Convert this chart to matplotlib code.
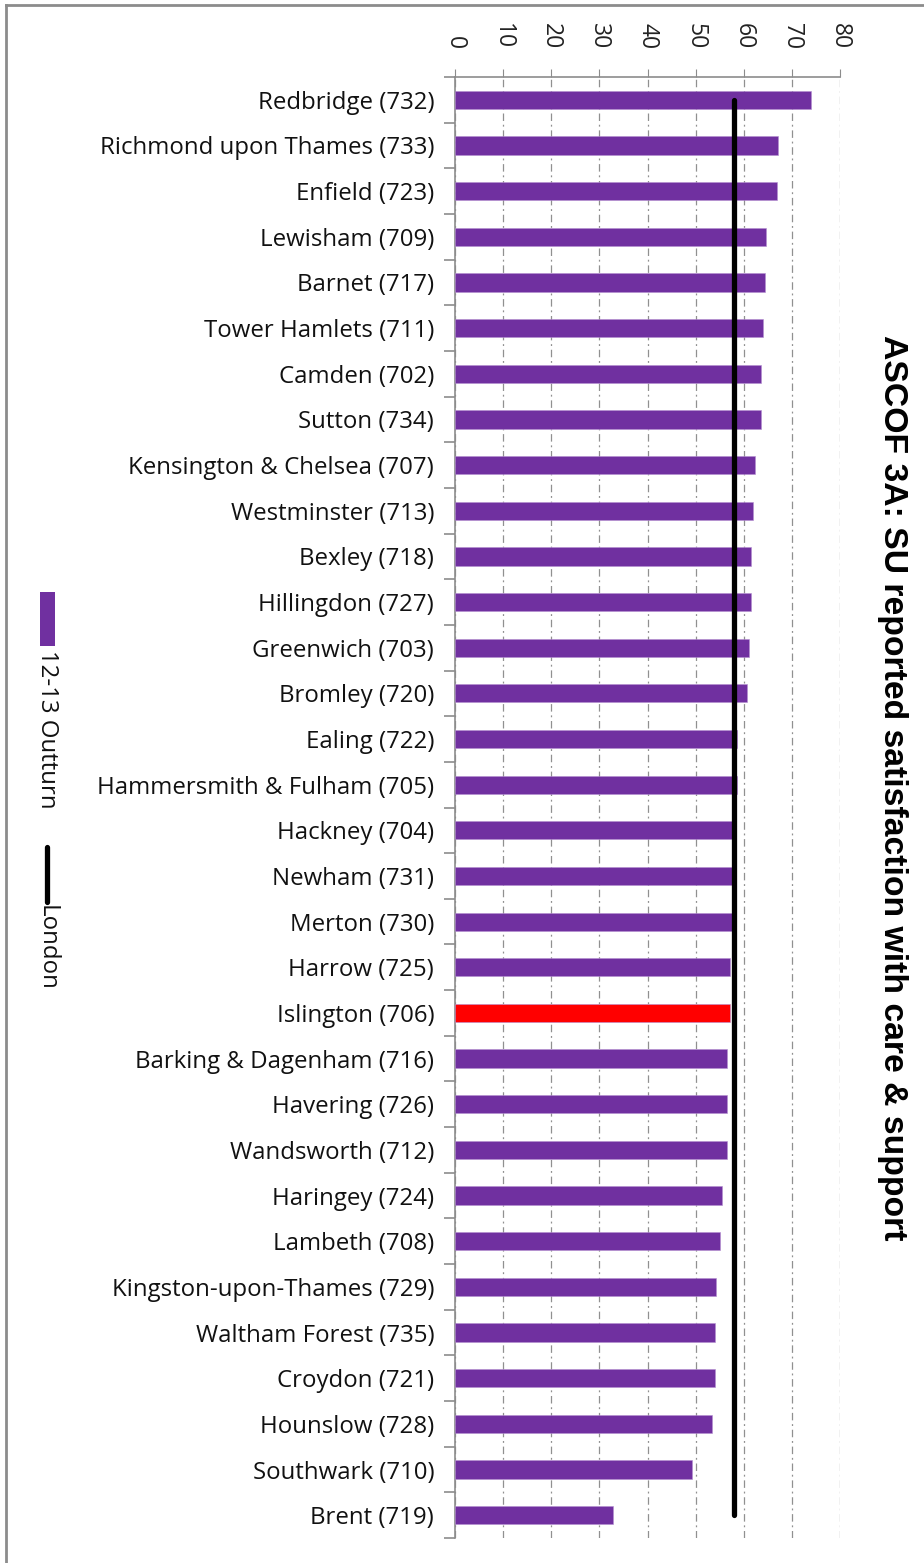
import matplotlib
matplotlib.use("Agg")
import matplotlib.pyplot as plt
from matplotlib.lines import Line2D
from matplotlib.patches import Rectangle

categories = [
    "Redbridge (732)", "Richmond upon Thames (733)", "Enfield (723)", "Lewisham (709)",
    "Barnet (717)", "Tower Hamlets (711)", "Camden (702)", "Sutton (734)",
    "Kensington & Chelsea (707)", "Westminster (713)", "Bexley (718)", "Hillingdon (727)",
    "Greenwich (703)", "Bromley (720)", "Ealing (722)", "Hammersmith & Fulham (705)",
    "Hackney (704)", "Newham (731)", "Merton (730)", "Harrow (725)", "Islington (706)",
    "Barking & Dagenham (716)", "Havering (726)", "Wandsworth (712)", "Haringey (724)",
    "Lambeth (708)", "Kingston-upon-Thames (729)", "Waltham Forest (735)", "Croydon (721)",
    "Hounslow (728)", "Southwark (710)", "Brent (719)",
]
outturn = [73.9, 67.2, 67.0, 64.7, 64.4, 64.1, 63.6, 63.6, 62.4, 61.9, 61.6, 61.6,
           61.0, 60.7, 58.7, 58.7, 57.7, 57.7, 57.6, 57.1, 57.1, 56.6, 56.6, 56.6,
           55.5, 55.1, 54.3, 54.1, 54.1, 53.5, 49.3, 32.8]
london = 57.9
highlight = "Islington (706)"
xticks = [0, 10, 20, 30, 40, 50, 60, 70, 80]
title = "ASCOF 3A: SU reported satisfaction with care & support"
legend_labels = ["12-13 Outturn", "London"]

PURPLE = "#7030A0"
RED = "#FF0000"
GRAY = "#8c8c8c"

W, H = 924, 1563
fig = plt.figure(figsize=(W / 100, H / 100), dpi=100)
fig.patch.set_facecolor("white")

ax = fig.add_axes([455 / W, 1 - 1538 / H, 385 / W, (1538 - 77) / H])
n = len(categories)
ypos = list(range(n))
colors = [RED if c == highlight else PURPLE for c in categories]
ax.barh(ypos, outturn, height=0.4, color=colors, edgecolor="#b48fd0", linewidth=0.4, zorder=3)
ax.plot([london] * n, ypos, color="black", lw=3.8, solid_capstyle="round", zorder=4)

ax.set_ylim(n - 0.5, -0.5)
ax.set_xlim(0, 80)
ax.set_xticks(xticks)
ax.xaxis.tick_top()
ax.tick_params(axis="x", which="major", direction="out", length=6, color=GRAY,
               labelsize=16.5, labelrotation=-90, pad=14, labelcolor="#222222")
for lab in ax.get_xticklabels():
    lab.set_fontfamily("Open Sans")
    lab.set_va("bottom")

ax.set_yticks(ypos)
ax.set_yticklabels(categories, fontsize=17.3, family="Open Sans", color="#111111")
ax.set_yticks([i - 0.5 for i in range(n + 1)], minor=True)
ax.tick_params(axis="y", which="major", length=0, pad=15)
ax.tick_params(axis="y", which="minor", length=8, color=GRAY, width=1.2)

for s in ["right", "bottom"]:
    ax.spines[s].set_visible(False)
for s in ["left", "top"]:
    ax.spines[s].set_color(GRAY)
    ax.spines[s].set_linewidth(1.2)

ax.grid(axis="x", color="#909090", lw=0.9, linestyle=(0, (6, 3, 1.5, 3)), zorder=0)
ax.set_axisbelow(True)

# title (rotated)
fig.text(892 / W, 1 - 788 / H, title, rotation=-90, ha="center", va="center",
         fontsize=24.3, fontweight="bold", family="Liberation Sans", color="black")

# legend (rotated, drawn in figure pixels)
fig.add_artist(Rectangle((40 / W, 1 - 646 / H), 15 / W, 54 / H, transform=fig.transFigure,
                         facecolor=PURPLE, edgecolor="none"))
fig.text(47 / W, 1 - 650 / H, legend_labels[0], rotation=-90, ha="center", va="top",
         fontsize=17.3, family="Open Sans", color="#111111")
fig.add_artist(Line2D([47 / W, 47 / W], [1 - 847 / H, 1 - 902 / H], transform=fig.transFigure,
                      color="black", lw=3.8, solid_capstyle="round"))
fig.text(47 / W, 1 - 905 / H, legend_labels[1], rotation=-90, ha="center", va="top",
         fontsize=17.3, family="Open Sans", color="#111111")

# outer frame (top and left edges visible)
fig.add_artist(Line2D([6 / W, 6 / W], [0, 1 - 5 / H], transform=fig.transFigure, color=GRAY, lw=2))
fig.add_artist(Line2D([6 / W, 1], [1 - 5 / H, 1 - 5 / H], transform=fig.transFigure, color=GRAY, lw=2))

fig.savefig("out.png", dpi=100, facecolor="white")
